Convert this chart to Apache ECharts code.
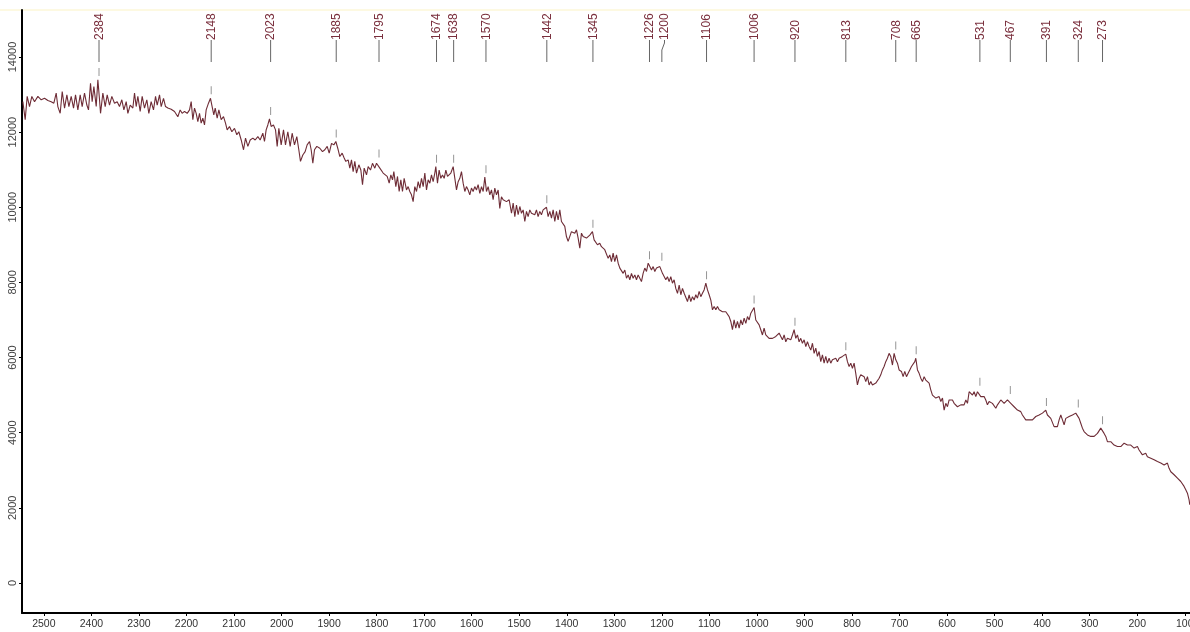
<!DOCTYPE html>
<html>
<head>
<meta charset="utf-8">
<script src="https://cdn.jsdelivr.net/npm/echarts@6/dist/echarts.min.js"></script>
<style>html,body{margin:0;padding:0;background:#fff;}#c{width:1190px;height:632px;}</style>
</head>
<body>
<div id="c"></div>
<script>
// Wavenumbers (cm-1) of spectrum samples
const wavenumbers = [
2544.2,2539.3,2535.1,2530.2,2525.3,2519.6,2512.6,2505.6,2498.6,2491.6,2484.6,2479.0,2474.1,2470.6,2465.7,2461.4,2456.5,2451.6,2447.4,2442.5,
2437.6,2433.4,2428.5,2423.6,2419.4,2414.5,2409.6,2406.1,2401.9,2398.4,2394.8,2389.9,2386.4,2382.9,2380.8,2375.9,2371.0,2366.8,2361.9,2357.0,
2351.4,2345.8,2340.9,2336.0,2331.7,2326.8,2323.3,2318.4,2312.8,2309.3,2305.8,2302.3,2297.4,2293.2,2288.3,2283.4,2279.2,2274.3,2269.4,2265.1,
2261.6,2256.7,2253.2,2248.3,2244.1,2239.2,2232.2,2225.2,2218.2,2213.3,2209.1,2204.2,2198.5,2193.6,2190.1,2186.6,2183.1,2179.6,2176.1,2172.6,
2169.1,2165.6,2162.1,2158.6,2153.7,2149.5,2146.7,2142.5,2139.6,2135.4,2131.9,2127.0,2122.1,2117.9,2114.4,2109.5,2104.6,2099.0,2094.1,2089.9,
2084.9,2080.0,2075.8,2070.9,2066.0,2060.4,2055.5,2049.9,2045.0,2039.4,2035.9,2032.4,2028.9,2025.4,2021.9,2017.0,2012.7,2009.2,2005.7,2000.8,
1995.9,1991.7,1986.8,1981.9,1977.7,1972.8,1967.9,1963.7,1960.2,1955.3,1950.4,1946.2,1941.2,1937.7,1934.2,1930.7,1925.8,
1919.5,1913.9,1909.0,1904.0,1899.8,1894.9,1890.0,1885.8,1880.9,1877.4,1872.5,1868.3,1864.8,1859.9,1856.4,1852.9,1849.4,1845.9,1842.3,1837.4,
1833.2,1829.7,1826.2,1821.3,1817.8,1812.9,1808.7,1803.8,1800.3,1796.8,1793.3,1789.8,1786.3,1782.8,1777.8,1773.6,1770.1,1766.6,1763.8,1759.6,
1756.1,1752.6,1749.1,1745.6,1742.1,1737.2,1733.7,1730.2,1726.7,1723.2,1719.7,1716.1,1712.6,1709.1,1705.6,1702.1,1698.6,1695.1,1691.6,1688.1,
1684.6,1681.1,1677.6,1675.5,1672.0,1668.5,1665.0,1661.5,1657.9,1654.4,1650.9,1647.4,1643.9,1639.0,1635.5,1632.0,1628.5,1625.0,1621.5,1618.0,
1614.5,1611.0,1607.5,1604.0,1600.5,1597.0,1593.5,1590.0,1586.5,1582.9,1579.4,1575.9,1572.4,1568.9,1565.4,1561.9,1558.4,1554.9,1551.4,1547.9,
1544.4,1540.9,1537.4,1533.9,1530.4,1526.9,1521.2,1516.3,1512.8,1509.3,1505.8,1502.3,1498.8,1495.3,1491.8,1488.3,1484.8,1481.3,1477.8,1474.3,
1470.8,1467.3,1463.8,1460.3,1456.8,1453.3,1449.8,1446.2,1442.7,1439.2,1435.7,1432.2,1428.7,1425.2,1421.7,1418.2,1414.7,1411.2,1407.7,1404.2,
1400.7,1397.2,1393.7,1390.2,1386.6,1383.1,1379.6,1376.1,1372.6,1369.1,1365.6,1362.1,1358.6,1355.1,1351.6,1348.1,1346.0,1342.5,1339.0,1335.5,
1330.6,1327.1,1323.6,1320.1,1316.5,1313.0,
1309.5,1306.0,1302.5,1299.0,1295.4,1291.9,1288.4,1284.9,1281.4,1277.9,1274.4,1270.9,1267.4,1263.9,1260.4,1256.9,1253.4,1249.9,1246.4,1242.9,
1239.4,1235.9,1232.3,1228.8,1225.3,1221.8,1218.3,1214.8,1211.3,1207.8,1204.3,1202.2,1198.7,1195.2,1191.7,1188.2,1184.7,1181.2,1177.7,1174.2,
1170.7,1167.1,1163.6,1160.1,1156.6,1153.1,1149.6,1146.1,1142.6,1139.1,1135.6,1132.1,1128.6,1125.1,1121.6,1118.1,1114.6,1111.1,1107.5,1104.0,
1100.5,1097.0,1093.5,1090.0,1086.5,1083.0,1079.5,1076.0,1072.5,1069.0,1065.5,1062.0,1058.5,1055.0,1051.5,1048.0,1044.5,1041.0,1037.4,1033.9,
1030.4,1026.9,1023.4,1019.9,1016.4,1012.9,1009.4,1005.9,1002.4,998.9,995.4,991.9,988.4,984.9,981.4,977.9,974.4,970.8,967.3,963.8,
960.3,956.8,953.3,949.8,946.3,942.8,939.3,935.8,932.3,928.8,925.3,921.8,918.3,914.8,911.3,907.8,904.3,900.7,897.2,893.7,
890.2,886.7,883.2,879.7,876.2,872.7,869.2,865.7,862.2,858.7,855.2,851.7,848.2,844.7,841.2,837.6,834.1,830.6,827.1,823.6,
820.1,816.6,813.1,809.6,806.1,802.6,799.1,795.6,792.1,788.6,785.1,781.6,778.0,774.5,771.0,767.5,764.0,760.5,757.0,753.5,
750.0,746.5,743.0,739.5,736.0,732.5,729.0,725.5,722.0,718.5,714.9,711.4,707.9,704.4,700.9,
699.5,696.0,692.5,689.0,685.4,681.9,678.4,674.9,671.4,667.9,665.8,662.3,658.8,655.3,651.8,648.3,644.8,641.3,637.8,634.3,
630.8,627.3,623.7,620.2,616.7,613.2,609.7,606.2,602.7,599.2,595.7,592.2,588.7,585.2,581.7,578.2,574.7,571.2,567.7,564.2,
560.6,557.1,553.6,550.1,546.6,543.1,539.6,536.1,532.6,529.1,525.6,522.1,518.6,515.1,511.6,508.1,504.6,501.1,497.5,494.0,
490.5,487.0,483.5,480.0,476.5,473.0,469.5,466.0,462.5,459.0,455.5,452.0,448.5,445.0,441.5,438.0,434.5,430.9,427.4,423.9,
420.4,416.9,413.4,409.9,406.4,402.9,399.4,395.9,392.4,388.9,385.4,381.9,378.4,374.9,371.4,367.9,364.3,360.8,357.3,353.8,
350.3,346.8,343.3,339.8,336.3,332.8,329.3,325.8,322.3,318.8,315.3,311.8,308.3,304.8,301.3,297.7,294.2,290.7,287.2,283.7,
280.2,276.7,273.2,269.7,266.2,262.7,259.2,255.7,252.2,248.7,245.2,241.7,238.1,234.6,231.1,227.6,224.1,220.6,217.1,213.6,
210.1,206.6,203.1,199.6,196.1,192.6,189.1,185.6,182.1,178.6,175.0,171.5,168.0,164.5,161.0,157.5,154.0,150.5,147.0,143.5,
140.0,136.5,133.0,129.4,125.9,122.4,118.9,115.4,111.9,108.4,104.9,101.4,97.9,94.4,90.9,89.5
];
// Intensities at those wavenumbers
const intensities = [
12810,12330,12950,12680,12950,12810,12950,12860,12900,12840,12810,12770,13040,12680,12500,13080,12640,12990,12680,12950,
12640,12990,12590,12990,12680,13040,12720,12590,13300,12810,13210,12680,13390,12860,12500,13040,12680,12990,12720,12950,
12770,12810,12680,12860,12590,12810,12500,12720,12640,13040,12680,12950,12550,12950,12640,12860,12500,12810,12590,12950,
12720,12990,12680,12900,12680,12640,12610,12550,12410,12590,12500,12550,12500,12590,12810,12330,12640,12500,12280,12500,
12240,12370,12190,12590,12770,12900,12720,12460,12640,12370,12590,12330,12410,12240,12060,12150,12010,12100,11930,12010,
11790,11530,11840,11620,11790,11840,11790,11880,11790,11970,11750,12060,12190,12350,12150,12190,12060,11620,12100,11660,
12060,11660,12010,11620,11970,11660,11880,11530,11220,11390,11480,11660,11750,11530,11170,11530,11620,
11570,11480,11530,11620,11440,11700,11660,11750,11530,11350,11440,11310,11220,11260,11040,11260,10950,11220,10910,11130,
10990,10600,11040,10860,11080,10990,11170,11040,11170,11220,11040,11080,10910,10950,10820,10640,10860,10730,10950,10550,
10820,10420,10730,10420,10770,10460,10550,10420,10330,10150,10550,10420,10680,10510,10770,10550,10910,10460,10730,10640,
10860,10680,10910,11080,10640,10990,10770,10860,10770,10990,10820,10860,10910,11080,10770,10460,10680,10770,10950,10640,
10420,10550,10460,10330,10510,10420,10550,10460,10600,10370,10550,10420,10800,10420,10550,10330,10460,10200,10510,10330,
10460,9970,10280,10200,10240,10150,10200,9840,10110,9750,10060,9800,10020,9840,9930,9620,9890,9750,9930,9840,
9890,9800,9930,9750,9890,9800,9930,9970,10000,9750,9890,9710,9930,9620,9890,9660,9930,9620,9660,9490,
9220,9090,9130,9350,9400,9310,9400,9180,8910,9310,9220,9260,9180,9220,9260,9220,9350,9130,9090,9000,
9040,8950,9000,8870,8820,8640,
8730,8550,8780,8550,8730,8510,8380,8420,8240,8330,8110,8200,8070,8240,8110,8200,8070,8200,8110,8020,
8240,8380,8290,8510,8420,8330,8420,8290,8380,8330,8420,8470,8240,8290,8070,8150,8020,8150,7980,8070,
7840,7710,7930,7670,7840,7710,7760,7490,7670,7490,7620,7530,7670,7580,7760,7620,7710,7800,7980,7800,
7670,7530,7270,7360,7270,7360,7270,7310,7220,7270,7220,7180,7090,6960,6740,7000,6780,6960,6780,7000,
6870,7050,6910,7090,7000,7180,7220,7330,7000,6960,6870,6740,6600,6780,6600,6650,6510,6560,6510,6510,
6560,6510,6650,6560,6470,6600,6420,6510,6560,6470,6600,6740,6510,6600,6420,6510,6380,6470,6290,6420,
6290,6200,6380,6110,6250,6030,6160,5890,6070,5850,6030,5850,5980,5850,5940,5890,5980,5890,5980,5940,
6030,6070,6090,5890,5760,5850,5710,5850,5580,5270,5450,5540,5540,5490,5360,5490,5270,5360,5270,5270,
5320,5360,5450,5540,5670,5760,5890,5980,6110,6030,5800,6110,5940,5850,5670,
5720,5630,5490,5630,5490,5580,5670,5760,5720,5890,5980,5670,5580,5450,5360,5490,5400,5360,5320,5140,
5000,5050,4920,4870,4960,4830,4920,4600,4780,4690,4870,4830,4870,4780,4740,4690,4650,4740,4780,4740,
4870,4780,5090,5050,5000,5090,4960,5090,5140,4960,5000,4960,4870,4740,4830,4870,4780,4740,4650,4740,
4780,4870,4830,4780,4830,4870,4920,4780,4740,4690,4740,4600,4650,4560,4470,4430,4340,4380,4340,4380,
4340,4380,4430,4380,4470,4430,4520,4560,4600,4470,4520,4380,4340,4160,4210,4160,4340,4470,4340,4210,
4380,4340,4430,4380,4470,4430,4520,4560,4380,4250,4120,4030,3980,3940,3900,3900,3850,3900,3940,3980,
4030,4120,4070,3980,3900,3760,3810,3760,3720,3670,3670,3630,3670,3630,3670,3720,3670,3670,3720,3670,
3630,3590,3590,3630,3540,3500,3410,3410,3450,3360,3320,3320,3360,3280,3280,3230,3280,3190,3230,3140,
3100,3190,3050,2960,2920,2880,2830,2790,2740,2700,2650,2570,2480,2390,2210,2080
];
// Labelled peaks (cm-1)
const peakLabels = [2384,2148,2023,1885,1795,1674,1638,1570,1442,1345,1226,1200,1106,1006,920,813,708,665,531,467,391,324,273];
// Axis tick labels
const xTicks = [100,200,300,400,500,600,700,800,900,1000,1100,1200,1300,1400,1500,1600,1700,1800,1900,2000,2100,2200,2300,2400,2500];
const yTicks = [0,2000,4000,6000,8000,10000,12000,14000];

const spectrum = wavenumbers.map((w, i) => [w, intensities[i]]);
function peakHeight(p) {
  let best = -Infinity;
  for (let i = 0; i < wavenumbers.length; i++) {
    if (Math.abs(wavenumbers[i] - p) <= 4 && intensities[i] > best) best = intensities[i];
  }
  return best;
}
const peakData = peakLabels.map(p => [p, peakHeight(p)]);

const FONT = "'Liberation Sans', Arial, sans-serif";
const chart = echarts.init(document.getElementById('c'), null, {renderer: 'canvas', width: 1190, height: 632});
chart.setOption({
  animation: false,
  backgroundColor: '#ffffff',
  grid: {left: 22, right: 0, top: 10, bottom: 19, containLabel: false, outerBoundsMode: 'none'},
  graphic: [{
    type: 'line', shape: {x1: 0, y1: 10, x2: 1190, y2: 10},
    style: {stroke: '#fbf3c4', lineWidth: 1}, z: 0
  }],
  xAxis: {
    type: 'value', inverse: true, min: 89, max: 2546,
    axisLine: {onZero: false, lineStyle: {color: '#000', width: 2}},
    axisTick: {customValues: xTicks, length: 3, lineStyle: {color: '#000'}},
    axisLabel: {customValues: xTicks, formatter: v => String(v), color: '#333', fontSize: 10.5, fontFamily: FONT, margin: 6, hideOverlap: false},
    splitLine: {show: false}
  },
  yAxis: {
    type: 'value', min: -800, max: 15250,
    axisLine: {show: true, onZero: false, lineStyle: {color: '#000', width: 2}},
    axisTick: {show: true, customValues: yTicks, length: 3, lineStyle: {color: '#000'}},
    axisLabel: {customValues: yTicks, formatter: v => String(v), rotate: 90, color: '#444', fontSize: 11, fontFamily: FONT, margin: 4},
    splitLine: {show: false}
  },
  series: [
    {
      type: 'line', data: spectrum, showSymbol: false, symbol: 'none',
      lineStyle: {color: '#6e2c36', width: 1.1}, z: 3
    },
    {
      type: 'scatter', data: peakData, symbol: 'rect', symbolSize: [1, 8], symbolOffset: [0, -8],
      itemStyle: {color: '#7a7a7a'}, silent: true, z: 4
    },
    {
      type: 'custom', data: peakData, silent: true, z: 5,
      renderItem: function (params, api) {
        const i = params.dataIndex;
        const x = api.coord([api.value(0), 0])[0];
        let dx = 0;
        if (i > 0) {
          const px = api.coord([peakLabels[i - 1], 0])[0];
          if (x - px < 15) dx = 15 - (x - px);
        }
        const lx = x + dx;
        const line = dx > 0
          ? {type: 'polyline', shape: {points: [[lx, 40], [lx, 43], [x, 50], [x, 62]]}, style: {stroke: '#666', lineWidth: 1, fill: null}}
          : {type: 'line', shape: {x1: x, y1: 40, x2: x, y2: 62}, style: {stroke: '#666', lineWidth: 1}};
        return {
          type: 'group',
          children: [
            line,
            {
              type: 'text', x: lx + 0.5, y: 40, rotation: Math.PI / 2,
              style: {text: String(peakLabels[i]), fill: '#7a2f3d', font: '12px ' + FONT, align: 'left', verticalAlign: 'middle'}
            }
          ]
        };
      }
    }
  ]
});
</script>
</body>
</html>
